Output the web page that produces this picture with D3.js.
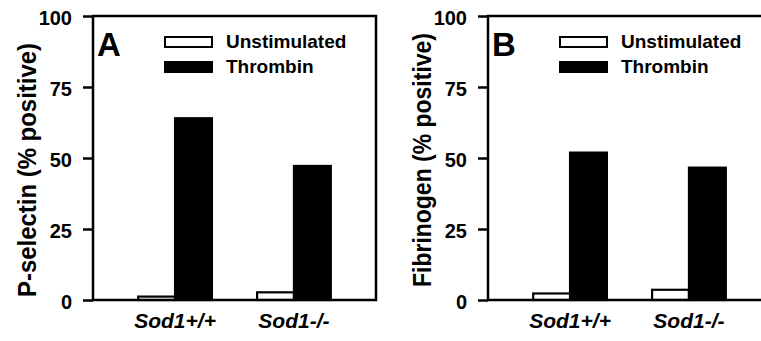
<!DOCTYPE html>
<html>
<head>
<meta charset="utf-8">
<script src="https://cdn.jsdelivr.net/npm/d3@7"></script>
<style>
  body { margin: 0; background: #fff; }
  svg { display: block; font-family: "Liberation Sans", Arial, sans-serif; font-weight: bold; }
</style>
</head>
<body>
<div id="chart"></div>
<script>
const groups = ['Sod1+/+', 'Sod1-/-'];
const seriesNames = ['Unstimulated', 'Thrombin'];
const yTicks = [0, 25, 50, 75, 100];

// panel A: P-selectin (% positive)
const pSelectinUnstim = [1.2, 2.7];
const pSelectinThrombin = [64, 47.2];

// panel B: Fibrinogen (% positive)
const fibrinogenUnstim = [2.3, 3.6];
const fibrinogenThrombin = [51.9, 46.6];

const panels = [
  { letter: 'A', label: 'P-selectin (% positive)', unstim: pSelectinUnstim, thrombin: pSelectinThrombin, left: 93, labelY: 170 },
  { letter: 'B', label: 'Fibrinogen (% positive)', unstim: fibrinogenUnstim, thrombin: fibrinogenThrombin, left: 488, labelY: 160 },
];

const width = 761;
const height = 341;
const plotW = 283;
const plotTop = 16;
const plotBottom = 300;

const svg = d3.select('#chart')
  .append('svg')
  .attr('width', width)
  .attr('height', height);

const y = d3.scaleLinear().domain([0, 100]).range([plotBottom, plotTop]);

const x0 = d3.scaleBand().domain(groups).range([0, plotW])
  .paddingInner(0.38).paddingOuter(0.38);
const x1 = d3.scaleBand().domain(seriesNames).range([0, x0.bandwidth()]);

const fills = { Unstimulated: '#fff', Thrombin: '#000' };

panels.forEach((p) => {
  const g = svg.append('g').attr('transform', `translate(${p.left},0)`);

  const rows = groups.map((grp, i) => ({
    group: grp,
    values: [
      { key: 'Unstimulated', value: p.unstim[i] },
      { key: 'Thrombin', value: p.thrombin[i] },
    ],
  }));

  // bars
  g.append('g').selectAll('g')
    .data(rows)
    .join('g')
    .attr('transform', (d) => `translate(${x0(d.group)},0)`)
    .selectAll('rect')
    .data((d) => d.values)
    .join('rect')
    .attr('x', (d) => x1(d.key))
    .attr('y', (d) => y(d.value))
    .attr('width', x1.bandwidth())
    .attr('height', (d) => y(0) - y(d.value))
    .attr('fill', (d) => fills[d.key])
    .attr('stroke', '#000')
    .attr('stroke-width', 2.2);

  // frame
  g.append('rect')
    .attr('x', 0).attr('y', plotTop)
    .attr('width', plotW).attr('height', plotBottom - plotTop)
    .attr('fill', 'none')
    .attr('stroke', '#000')
    .attr('stroke-width', 2.5);

  // y axis
  const yAxis = g.append('g')
    .call(d3.axisLeft(y).tickValues(yTicks).tickSize(10).tickPadding(11).tickSizeOuter(0));
  yAxis.select('.domain').remove();
  yAxis.selectAll('line').attr('stroke', '#000').attr('stroke-width', 2.5);
  yAxis.selectAll('text')
    .attr('fill', '#000')
    .attr('dy', '0.4em')
    .style('font-size', '20px')
    .style('font-weight', 'bold');

  // x labels
  g.append('g').selectAll('text')
    .data(groups)
    .join('text')
    .attr('x', (d) => x0(d) + x0.bandwidth() / 2)
    .attr('y', 328)
    .attr('text-anchor', 'middle')
    .style('font-size', '21px')
    .style('font-style', 'italic')
    .text((d) => d);

  // y label
  g.append('text')
    .attr('transform', `translate(${-57},${p.labelY}) rotate(-90)`)
    .attr('text-anchor', 'middle')
    .attr('textLength', 254)
    .attr('lengthAdjust', 'spacingAndGlyphs')
    .style('font-size', '26px')
    .text(p.label);

  // panel letter
  g.append('text')
    .attr('x', 4)
    .attr('y', 56)
    .style('font-size', '33px')
    .text(p.letter);

  // legend
  const legend = g.append('g').selectAll('g')
    .data(seriesNames)
    .join('g')
    .attr('transform', (d, i) => `translate(72,${37 + i * 25})`);
  legend.append('rect')
    .attr('width', 47)
    .attr('height', 10)
    .attr('fill', (d) => fills[d])
    .attr('stroke', '#000')
    .attr('stroke-width', 2);
  legend.append('text')
    .attr('x', 61)
    .attr('y', 11)
    .style('font-size', '19px')
    .text((d) => d);
});
</script>
</body>
</html>
